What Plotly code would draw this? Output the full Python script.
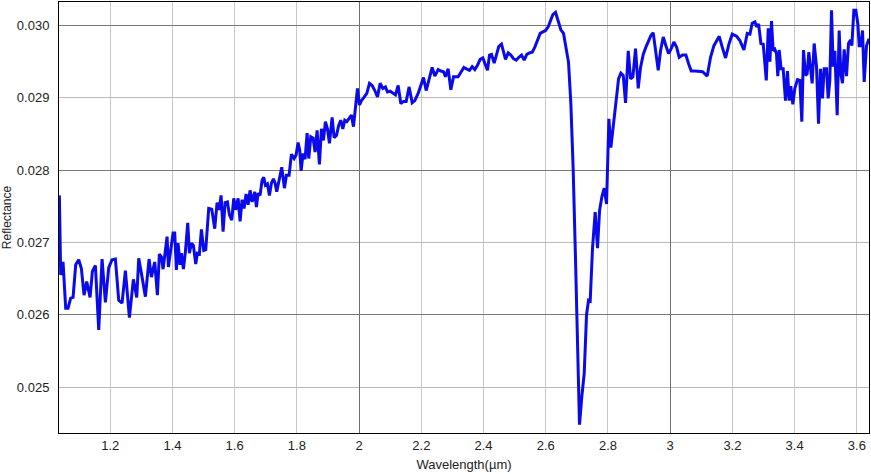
import plotly.graph_objects as go

wavelength = [
    1.0366, 1.0409, 1.0484, 1.0570, 1.0645, 1.0730, 1.0806, 1.0891, 1.0988, 1.1073,
    1.1159, 1.1245, 1.1352, 1.1427, 1.1524, 1.1631, 1.1738, 1.1845, 1.1952, 1.2059,
    1.2167, 1.2274, 1.2381, 1.2488, 1.2617, 1.2745, 1.2853, 1.2917, 1.3024, 1.3131,
    1.3249, 1.3324,
    1.3431, 1.3517, 1.3581, 1.3645, 1.3699, 1.3763, 1.3828, 1.3870, 1.3935, 1.4021,
    1.4074, 1.4128, 1.4181, 1.4246, 1.4288, 1.4353, 1.4417, 1.4492, 1.4546, 1.4610,
    1.4674, 1.4749, 1.4803, 1.4867, 1.4932, 1.5007, 1.5071, 1.5167, 1.5264, 1.5360,
    1.5435, 1.5500, 1.5564, 1.5628, 1.5693, 1.5768, 1.5832, 1.5907, 1.5971, 1.6035,
    1.6111, 1.6175, 1.6239, 1.6303, 1.6368, 1.6432, 1.6496, 1.6561,
    1.6646, 1.6700, 1.6753, 1.6817, 1.6882, 1.6935, 1.6989, 1.7053, 1.7118, 1.7182,
    1.7246, 1.7300, 1.7353, 1.7428, 1.7514, 1.7600, 1.7664, 1.7750, 1.7825, 1.7911,
    1.7975, 1.8039, 1.8093, 1.8136, 1.8200, 1.8264, 1.8329, 1.8382, 1.8447, 1.8522,
    1.8586, 1.8650, 1.8725, 1.8790, 1.8854, 1.8918, 1.8982, 1.9047, 1.9133, 1.9197,
    1.9272, 1.9347, 1.9411, 1.9476, 1.9540, 1.9604, 1.9679, 1.9754, 1.9819, 1.9883,
    1.9948, 2.0012, 2.0076, 2.0162, 2.0248, 2.0334, 2.0419, 2.0505, 2.0591, 2.0677,
    2.0762, 2.0848, 2.0912, 2.0998, 2.1084, 2.1170, 2.1255, 2.1341, 2.1427, 2.1513,
    2.1609, 2.1706, 2.1791, 2.1898, 2.1984, 2.2070, 2.2156, 2.2241, 2.2349, 2.2434,
    2.2541, 2.2627, 2.2713, 2.2777, 2.2863, 2.2949, 2.3035,
    2.3184, 2.3270, 2.3366, 2.3452, 2.3549, 2.3634, 2.3720, 2.3806, 2.3892, 2.3977,
    2.4063, 2.4127, 2.4192, 2.4256, 2.4342, 2.4427, 2.4492, 2.4578, 2.4642, 2.4706,
    2.4792, 2.4878, 2.4963, 2.5049, 2.5135, 2.5221, 2.5306, 2.5392, 2.5478, 2.5564,
    2.5649, 2.5735, 2.5821, 2.5907, 2.5992, 2.6078, 2.6153, 2.6228, 2.6314, 2.6400,
    2.6485, 2.6571,
    2.6732, 2.6807, 2.6882, 2.6957, 2.7021, 2.7085, 2.7160, 2.7236, 2.7311, 2.7375,
    2.7428, 2.7503, 2.7589, 2.7664, 2.7729, 2.7804, 2.7879, 2.7954,
    2.8029, 2.8093, 2.8168, 2.8254, 2.8340, 2.8415, 2.8490, 2.8565, 2.8651, 2.8726,
    2.8801, 2.8886, 2.8972, 2.9047, 2.9133, 2.9219, 2.9304, 2.9379, 2.9454, 2.9540,
    2.9615, 2.9690, 2.9776, 2.9862, 2.9947, 3.0033, 3.0119, 3.0205, 3.0290, 3.0398,
    3.0505, 3.0591, 3.0676,
    3.0794, 3.1040, 3.1190, 3.1297, 3.1405, 3.1576, 3.1673, 3.1780, 3.1887, 3.1994,
    3.2134, 3.2241, 3.2369, 3.2477, 3.2562, 3.2637, 3.2723, 3.2777, 3.2841, 3.2916,
    3.2991, 3.3088, 3.3152, 3.3206,
    3.3256, 3.3309, 3.3363, 3.3416, 3.3459, 3.3502, 3.3566, 3.3631, 3.3706, 3.3770,
    3.3824, 3.3877, 3.3942, 3.4006, 3.4092, 3.4167, 3.4231, 3.4285, 3.4349, 3.4402,
    3.4456, 3.4499, 3.4563, 3.4628, 3.4703, 3.4767, 3.4831, 3.4895, 3.4949, 3.5024,
    3.5078, 3.5131, 3.5185, 3.5238, 3.5292, 3.5367, 3.5431, 3.5485, 3.5539, 3.5592,
    3.5667, 3.5731, 3.5796, 3.5839, 3.5903, 3.5967, 3.6032, 3.6075, 3.6128, 3.6182,
    3.6235, 3.6310, 3.6375, 3.6439,
]

reflectance = [
    0.02765, 0.02655, 0.02673, 0.02609, 0.02609, 0.02623, 0.02624, 0.02669, 0.02676, 0.02664,
    0.02627, 0.02646, 0.02624, 0.02660, 0.02668, 0.02579, 0.02677, 0.02617, 0.02665, 0.02676,
    0.02677, 0.02620, 0.02616, 0.02661, 0.02596, 0.02649, 0.02624, 0.02678, 0.02652, 0.02625,
    0.02677, 0.02652,
    0.02673, 0.02627, 0.02684, 0.02680, 0.02663, 0.02687, 0.02708, 0.02666, 0.02689, 0.02713,
    0.02713, 0.02662, 0.02699, 0.02669, 0.02685, 0.02663, 0.02687, 0.02727, 0.02685, 0.02699,
    0.02696, 0.02670, 0.02685, 0.02684, 0.02718, 0.02689, 0.02690, 0.02747, 0.02746, 0.02719,
    0.02755, 0.02745, 0.02765, 0.02715, 0.02755, 0.02756, 0.02738, 0.02731, 0.02761, 0.02745,
    0.02761, 0.02729, 0.02759, 0.02747, 0.02767, 0.02752, 0.02772, 0.02756,
    0.02770, 0.02749, 0.02768, 0.02765, 0.02786, 0.02790, 0.02779, 0.02781, 0.02765, 0.02782,
    0.02788, 0.02782, 0.02770, 0.02786, 0.02804, 0.02775, 0.02793, 0.02793, 0.02822, 0.02816,
    0.02821, 0.02838, 0.02827, 0.02799, 0.02823, 0.02815, 0.02851, 0.02816, 0.02846, 0.02844,
    0.02825, 0.02855, 0.02808, 0.02857, 0.02841, 0.02867, 0.02857, 0.02837, 0.02873, 0.02845,
    0.02848, 0.02862, 0.02869, 0.02857, 0.02869, 0.02867, 0.02871, 0.02876, 0.02860, 0.02883,
    0.02913, 0.02890, 0.02896, 0.02901, 0.02906, 0.02920, 0.02917, 0.02910, 0.02901, 0.02920,
    0.02913, 0.02915, 0.02908, 0.02909, 0.02906, 0.02904, 0.02917, 0.02892, 0.02895, 0.02895,
    0.02915, 0.02893, 0.02896, 0.02906, 0.02917, 0.02928, 0.02910, 0.02926, 0.02942, 0.02930,
    0.02939, 0.02937, 0.02936, 0.02929, 0.02940, 0.02911, 0.02929,
    0.02929, 0.02936, 0.02942, 0.02940, 0.02938, 0.02943, 0.02939, 0.02945, 0.02953, 0.02955,
    0.02945, 0.02938, 0.02959, 0.02960, 0.02948, 0.02961, 0.02971, 0.02974, 0.02963, 0.02953,
    0.02962, 0.02959, 0.02954, 0.02952, 0.02956, 0.02959, 0.02952, 0.02960, 0.02962, 0.02963,
    0.02970, 0.02979, 0.02989, 0.02991, 0.02993, 0.02998, 0.03008, 0.03015, 0.03018, 0.03007,
    0.02994, 0.02989,
    0.02949, 0.02892, 0.02800, 0.02676, 0.02575, 0.02448, 0.02487, 0.02519, 0.02600, 0.02620,
    0.02619, 0.02692, 0.02742, 0.02692, 0.02744, 0.02763, 0.02775, 0.02753,
    0.02871, 0.02831, 0.02860, 0.02896, 0.02926, 0.02934, 0.02931, 0.02893, 0.02965, 0.02926,
    0.02929, 0.02968, 0.02913, 0.02942, 0.02960, 0.02970, 0.02979, 0.02986, 0.02990, 0.02963,
    0.02938, 0.02965, 0.02984, 0.02972, 0.02961, 0.02968, 0.02977, 0.02970, 0.02956, 0.02959,
    0.02959, 0.02947, 0.02937,
    0.02937, 0.02936, 0.02930, 0.02956, 0.02972, 0.02985, 0.02970, 0.02955, 0.02974, 0.02988,
    0.02985, 0.02979, 0.02966, 0.02989, 0.02988, 0.03003, 0.03005, 0.02998, 0.03002, 0.02975,
    0.02974, 0.02924, 0.02996, 0.02950,
    0.03006, 0.02965, 0.02967, 0.02961, 0.02930, 0.02966, 0.02940, 0.02940, 0.02896, 0.02937,
    0.02896, 0.02916, 0.02891, 0.02913, 0.02925, 0.02924, 0.02867, 0.02966, 0.02931, 0.02933,
    0.02963, 0.02943, 0.02920, 0.02975, 0.02943, 0.02864, 0.02940, 0.02899, 0.02940, 0.02940,
    0.02899, 0.02924, 0.03021, 0.02943, 0.02965, 0.02876, 0.02993, 0.02933, 0.02920, 0.02967,
    0.02930, 0.02975, 0.02980, 0.02972, 0.03021, 0.03021, 0.03002, 0.02972, 0.02972, 0.02993,
    0.02922, 0.02972, 0.02980, 0.02980,
]

x_range = [1.0354, 3.639]
y_range = [0.024365, 0.030324]

fig = go.Figure()
# empty trace so that the overlay axes (darker major grid) get drawn
fig.add_trace(go.Scatter(x=[], y=[], xaxis="x2", yaxis="y2",
                         showlegend=False, hoverinfo="skip"))
fig.add_trace(go.Scatter(
    x=wavelength, y=reflectance, mode="lines",
    line=dict(color="rgb(10,10,235)", width=3),
    showlegend=False, hoverinfo="skip",
))

font = dict(family="Liberation Sans, Arial, sans-serif", size=13, color="#222222")

fig.update_layout(
    width=871, height=474,
    margin=dict(l=59, r=2, t=2, b=41, autoexpand=False),
    paper_bgcolor="white", plot_bgcolor="white",
    font=font,
    xaxis=dict(
        range=x_range, tick0=0, dtick=0.2, showgrid=True,
        gridcolor="rgb(200,200,200)", gridwidth=1,
        showline=True, linecolor="black", linewidth=1, mirror=True,
        ticks="", zeroline=False, automargin=False,
        title=dict(text="Wavelength(µm)", font=dict(size=13), standoff=8),
    ),
    yaxis=dict(
        range=y_range, tick0=0.025, dtick=0.001, tickformat=".3f",
        showgrid=True, gridcolor="rgb(185,185,185)", gridwidth=1,
        showline=True, linecolor="black", linewidth=1, mirror=True,
        ticks="", zeroline=False, ticklabelstandoff=6, automargin=False,
        title=dict(text="Reflectance", font=dict(size=12), standoff=6),
    ),
    xaxis2=dict(
        range=x_range, overlaying="x", tick0=0, dtick=1, showgrid=True,
        gridcolor="rgb(110,110,110)", gridwidth=1, showticklabels=False,
        ticks="", zeroline=False, showline=False, automargin=False,
    ),
    yaxis2=dict(
        range=y_range, overlaying="y", tick0=0.026, dtick=0.002, showgrid=True,
        gridcolor="rgb(120,120,120)", gridwidth=1, showticklabels=False,
        ticks="", zeroline=False, showline=False, automargin=False,
    ),
)

fig.write_html(
    "out.html",
    config={"displayModeBar": False},
    post_script="document.body.style.margin='0';document.body.style.padding='0';",
)
